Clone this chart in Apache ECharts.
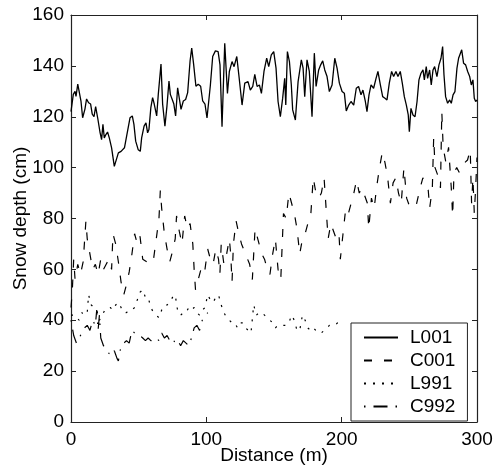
<!DOCTYPE html>
<html>
<head>
<meta charset="utf-8">
<script src="https://cdn.jsdelivr.net/npm/echarts@6/dist/echarts.min.js"></script>
<style>
html,body{margin:0;padding:0;background:#fff;}
#chart{width:494px;height:472px;}
</style>
</head>
<body>
<div id="chart"></div>
<script>
// Distance (m), snow depth (cm)
const seriesNames = ['L001', 'C001', 'L991', 'C992'];
const xTicks = [0, 100, 200, 300];
const yTicks = [0, 20, 40, 60, 80, 100, 120, 140, 160];

const l001 = [[0,122],[1.7,128.8],[3,130],[3.7,128],[5,132.8],[6.1,133],[7.4,126],[8.6,119.6],[10.3,123],[11.5,127],[13,125.5],[14.5,125],[15.7,121],[17,120],[18.2,124],[19.7,119.6],[21.4,114],[22.6,111],[23.6,117],[24.6,111.7],[25.8,113],[27,114],[28.3,111.7],[30,107.8],[32,100.5],[33,101],[35,105.8],[37,106.4],[38,105.8],[39.5,107.8],[41.1,112.4],[42.3,113],[43.6,119.6],[45.3,120.3],[46.5,117],[47.8,110.4],[49.7,107],[51.2,106.4],[52.2,111.7],[54,116.3],[55.4,117.6],[56.6,113.7],[57.6,115],[59,123.6],[60.3,127.5],[61.5,125],[63.3,120.3],[64.5,128.8],[66.5,140.7],[67.7,125],[69.4,116.3],[70.9,124.2],[72.4,134],[73.4,128.8],[74.8,126.8],[76,125],[77.3,120.3],[78.8,131.4],[80,132],[81.3,122.9],[83,126.2],[84.7,126.8],[86.2,129.5],[88,142],[89.2,147],[90.6,140.7],[92.3,132],[94,132.8],[95.8,132],[97.3,126.2],[99,125],[100.5,119.5],[103,132.5],[104.7,143.7],[106.7,145.9],[108.7,145.6],[110.1,140.4],[111.6,116.1],[113.6,148.9],[115.6,129.2],[117,137.8],[119,141.7],[120.5,139.7],[122.5,143.7],[124,136.5],[126.4,124.6],[128.4,133.2],[130.8,133.8],[132.5,130.5],[134.3,131.9],[135.8,136.7],[137.5,131.9],[139.2,132.5],[140.7,129.2],[142.6,137.8],[144.6,143],[146.1,139.7],[148,144.3],[149.8,145.6],[151.5,139.1],[153,126],[154.7,120],[156.4,127.3],[157.9,135.1],[158.7,124.6],[159.9,145.6],[161.4,141.7],[162.8,132.5],[163.8,122.7],[165.8,118.7],[167.8,133.8],[170.2,142.4],[171.5,139.1],[172.7,127.9],[174.4,142.4],[176.1,137.8],[178.1,120],[179.8,145],[181.1,131.9],[183,138.4],[184.5,140.4],[186,142],[187.5,138.4],[189.2,135.8],[190.9,129.9],[192.9,132.5],[194.9,143],[196.6,139.1],[198.3,133.2],[200.3,129.9],[202,129.2],[203.4,122.3],[205.2,124.6],[206.9,126],[208.9,124.6],[210.8,131.2],[212.5,131.9],[214.3,128.6],[215.7,130.5],[217.5,126],[218.7,122],[220.2,128.6],[221.7,132.5],[223.6,131.2],[225.4,135.1],[226.8,137.8],[228.6,132.5],[230.3,127.9],[232,127.3],[233.5,126.6],[235.2,133.2],[236.9,137.8],[238.4,135.8],[240.1,137.8],[241.6,135.8],[243.3,137.8],[244.8,133.2],[246.3,127.9],[247.8,124.6],[249.2,120.7],[250,114.1],[251.2,123.3],[252.7,120.7],[254.2,120],[255.7,126],[257.1,134.5],[258.6,137.1],[260.1,138.4],[261.1,134.5],[262.5,139.7],[263.5,135.1],[265,138.4],[266.2,132.5],[267.5,138.4],[268.7,139.7],[270.4,135.8],[271.9,140.4],[273.4,143],[274.6,147.6],[275.6,136.5],[276.8,127.9],[278.3,125.3],[279.8,126.6],[281,125.3],[282.3,128.6],[283.7,129.9],[285.2,139.1],[286.4,143],[287.7,142.4],[288.7,146.3],[290.1,141],[291.6,140.4],[293.1,137.8],[294.6,135.8],[295.8,132.5],[297,134.5],[298,127.3],[299,126],[300,126.6]];

const c001 = [[0,45],[1,52],[2,64],[3,56],[5,62],[7,58],[9,63],[11,79],[12,72],[14,66],[16,60],[18,62],[20,58],[22,64],[24,60],[26,62],[28,64],[30,60],[31,74],[33,70],[35,63],[37,55],[39,50],[41,54],[43,59],[45,66],[47,74],[49,70],[51,73],[53,64],[56,63],[59,62],[61,64],[63,72],[65,80],[66,91],[67,84],[69,74],[71,68],[73,63],[75,67],[77,72],[78,81],[80,75],[82,70],[84,81],[86,76],[88,78],[90,70],[91,60],[92,52],[94,56],[97,62],[99,60],[101,68],[103,64],[105,62],[107,68],[109,64],[110,58],[111,70],[113,62],[115,66],[117,72],[118,66],[119,55],[120,70],[122,79],[124,74],[126,70],[129,66],[132,62],[134,56],[136,76],[138,72],[141,66],[143,64],[145,60],[147,58],[149,66],[151,72],[153,60],[155,56],[157,82],[159,80],[161,90],[163,86],[165,82],[167,76],[169,66],[171,72],[173,74],[175,78],[177,80],[179,96],[181,90],[183,88],[185,90],[187,96],[188,88],[190,72],[192,78],[194,75],[196,72],[198,74],[199,64],[201,74],[203,84],[205,82],[207,86],[209,90],[211,95],[213,90],[215,92],[217,89],[219,86],[220,76],[222,88],[224,84],[226,93],[228,100],[230,106],[232,102],[234,96],[236,86],[238,94],[240,96],[242,90],[244,86],[246,100],[248,88],[250,85],[252,86],[255,85],[258,92],[260,96],[262,93],[264,91],[265,84],[267,92],[268,112],[269,100],[271,97],[273,92],[274,122],[275,108],[277,102],[279,108],[281,92],[282,81],[283,98],[285,100],[287,98],[289,100],[291,102],[293,103],[295,107],[296,86],[297,96],[298,82],[299,92],[300,104]];

const l991 = [[0,42],[3,42],[6,40],[8,43],[10,42],[12,43],[13,50],[15,46],[17,45],[19,44],[21,40],[23,42],[25,44],[27,45],[29,45],[31,44],[33,46],[35,47],[37,45],[39,43],[41,43],[43,44],[45,44],[47,45],[49,48],[51,51],[53,52],[55,49],[57,49],[59,45],[61,43],[63,42],[65,41],[67,44],[69,46],[71,46],[73,47],[75,49],[77,50],[79,43],[81,42],[83,43],[85,43],[87,45],[89,44],[91,45],[93,43],[95,42],[97,44],[99,45],[101,50],[103,48],[105,47],[107,49],[109,50],[111,46],[113,43],[115,41],[117,40],[119,39],[121,39],[123,37],[125,39],[127,39],[129,37],[131,36],[133,35],[135,46],[137,42],[139,43],[141,43],[143,42],[145,41],[147,40],[149,39],[151,37],[153,38],[155,38],[157,38],[159,38],[161,39],[163,42],[165,40],[167,36],[169,36],[171,42],[173,40],[175,37],[177,36],[179,37],[181,36],[183,35],[185,35],[187,36],[189,37],[191,38],[193,38],[195,38],[197,39],[199,39]];

const c992 = [[0,40],[2,34],[4,31],[6,33],[8,35],[10,37],[12,38],[14,36],[16,40],[18,38],[19,44],[20,36],[21,42],[22,33],[24,30],[26,29],[28,27],[30,26],[32,28],[34,25],[35,24],[37,30],[39,31],[41,32],[43,31],[45,36],[47,35],[49,34],[51,34],[53,33],[55,32],[57,33],[59,32],[61,32],[63,33],[65,32],[67,35],[69,33],[71,34],[73,32],[75,33],[77,31],[79,32],[81,30],[83,32],[85,31],[87,30],[89,33],[91,37],[93,38],[95,36],[97,40],[99,41],[101,43]];

const FONT = 'Liberation Sans, Arial, sans-serif';
const chart = echarts.init(document.getElementById('chart'), null, {renderer: 'canvas'});

const axisCommon = {
  axisLine: {show: true, onZero: false, lineStyle: {color: '#222', width: 1.2}},
  axisTick: {show: true, inside: true, length: 5, lineStyle: {color: '#222', width: 1}},
  splitLine: {show: false},
};

const lineSeries = (name, data, type, width) => ({
  name: name,
  type: 'line',
  data: data,
  showSymbol: false,
  symbol: 'none',
  smooth: false,
  animation: false,
  lineStyle: {color: '#000', width: width, type: type},
  itemStyle: {color: '#000'}
});

chart.setOption({
  animation: false,
  backgroundColor: '#fff',
  grid: {left: 71, right: 17, top: 15, bottom: 50, containLabel: false, outerBoundsMode: 'none'},
  xAxis: [
    Object.assign({}, axisCommon, {
      type: 'value', position: 'bottom', min: xTicks[0], max: xTicks[xTicks.length-1], interval: 100,
      name: 'Distance (m)', nameLocation: 'middle', nameGap: 24, nameMoveOverlap: false,
      nameTextStyle: {fontFamily: FONT, fontSize: 19, color: '#000', verticalAlign: 'top'},
      axisLabel: {fontFamily: FONT, fontSize: 19, color: '#000', margin: 8}
    }),
    Object.assign({}, axisCommon, {
      type: 'value', position: 'top', min: xTicks[0], max: xTicks[xTicks.length-1], interval: 100,
      axisLabel: {show: false}
    })
  ],
  yAxis: [
    Object.assign({}, axisCommon, {
      type: 'value', position: 'left', min: yTicks[0], max: yTicks[yTicks.length-1], interval: 20,
      name: 'Snow depth (cm)', nameLocation: 'middle', nameGap: 41, nameMoveOverlap: false,
      nameTextStyle: {fontFamily: FONT, fontSize: 19, color: '#000'},
      axisLabel: {fontFamily: FONT, fontSize: 19, color: '#000', margin: 7}
    }),
    Object.assign({}, axisCommon, {
      type: 'value', position: 'right', min: yTicks[0], max: yTicks[yTicks.length-1], interval: 20,
      axisLabel: {show: false}
    })
  ],
  legend: {
    orient: 'vertical',
    left: 351, top: 323,
    width: 120,
    padding: [5, 12, 5, 12],
    itemWidth: 34, itemHeight: 14, itemGap: 4,
    borderColor: '#222', borderWidth: 1, backgroundColor: '#fff',
    itemStyle: {opacity: 0, borderWidth: 0},
    textStyle: {fontFamily: FONT, fontSize: 19, color: '#000', padding: [0, 0, 0, 7]},
    data: seriesNames
  },
  series: [
    lineSeries(seriesNames[0], l001, 'solid', 1.3),
    lineSeries(seriesNames[1], c001, [8, 12], 1.2),
    lineSeries(seriesNames[2], l991, [2, 7], 1.2),
    lineSeries(seriesNames[3], c992, [1.5, 8, 14, 8], 1.2)
  ]
});
</script>
</body>
</html>
